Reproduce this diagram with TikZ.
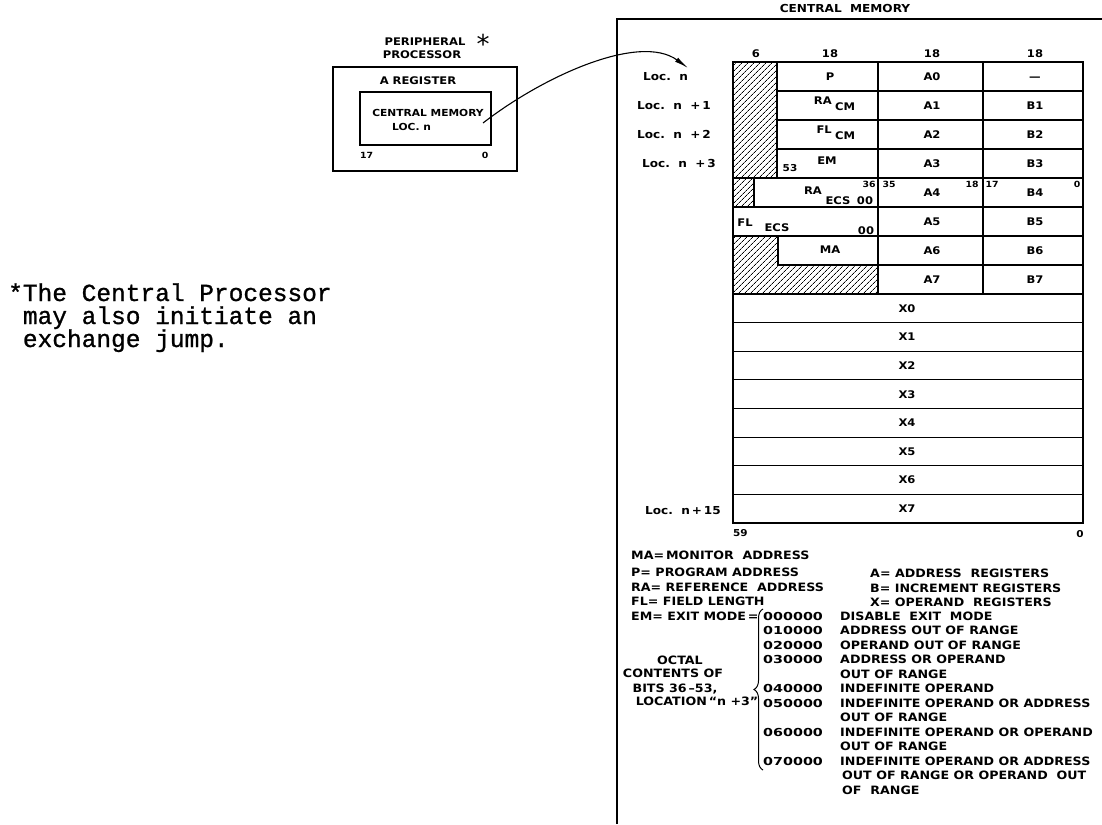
\documentclass[tikz,border=0pt]{standalone}
\usepackage{fontspec}
\usetikzlibrary{patterns.meta,decorations.pathreplacing,arrows.meta}
\newfontfamily\lt{DejaVu Sans Bold}[FakeStretch=1.1]
\newfontfamily\ltw{DejaVu Sans Bold}[FakeStretch=1.3]
\newfontfamily\ltr{DejaVu Sans}
\newfontfamily\nt{Liberation Mono}[FakeBold=1]
\tikzset{
  lab/.style={font=\lt\fontsize{10.5}{12}\selectfont, inner sep=0pt, text height=7.7pt, text depth=0pt},
  loclab/.style={font=\lt\fontsize{11}{13}\selectfont, inner sep=0pt, text height=8pt, text depth=0pt, anchor=west},
  tiny/.style={font=\lt\fontsize{8.5}{10}\selectfont, inner sep=0pt, text height=6.2pt, text depth=0pt},
  leg/.style={font=\lt\fontsize{11.5}{13}\selectfont, inner sep=0pt, text height=8.4pt, text depth=0pt, anchor=west},
  code/.style={font=\ltw\fontsize{11}{13}\selectfont, inner sep=0pt, text height=8pt, text depth=0pt, anchor=west},
  note/.style={font=\nt\fontsize{24.5}{28}\selectfont, inner sep=0pt, anchor=base west},
  ln/.style={line width=1.2pt},
  hatch/.style={pattern={Lines[angle=45,distance=4pt,line width=0.8pt]}},
}
\begin{document}
\begin{tikzpicture}[x=1pt,y=-1pt]
\useasboundingbox (0,0) rectangle (1102,824);

% central memory frame
\draw[ln] (617,824) -- (617,19) -- (1102,19);
\node[lab, font=\lt\fontsize{11}{13}\selectfont] (cmtitle) at (845,9) {CENTRAL\ \ MEMORY};

% peripheral processor
\node[lab] (pp1) at (425,42) {PERIPHERAL};
\node[inner sep=0pt, font=\ltr\fontsize{26}{28}\selectfont] (star) at (483,44) {*};
\node[lab] (pp2) at (422,55) {PROCESSOR};
\node[draw, ln, minimum width=184pt, minimum height=104pt, inner sep=0pt] (ppbox) at (425,119) {};
\node[lab, font=\lt\fontsize{10.5}{12}\selectfont] (areglab) at (418,81) {A\ REGISTER};
\node[draw, ln, minimum width=131pt, minimum height=53pt, inner sep=0pt] (areg) at (425.5,118.5) {};
\node[lab, font=\lt\fontsize{9.7}{12}\selectfont] (cml) at (428,113) {CENTRAL\ MEMORY};
\node[lab, font=\lt\fontsize{9.7}{12}\selectfont, anchor=west] (locn) at (392,127) {LOC.\ n};
\node[tiny, anchor=west] (b17) at (360,155) {17};
\node[tiny] (b0) at (485,155) {0};

% connector
\coordinate (src) at (483,123);
\coordinate (tip) at (688,68);
\draw[line width=1.1pt, -{Latex[length=14pt,width=5pt]}] (src) .. controls (545,75) and (640,33) .. (tip);

% hatching
\fill[hatch] (733,62) rectangle (777,178);
\fill[hatch] (733,178) rectangle (754,207);
\fill[hatch] (733,236) -- (778,236) -- (778,265) -- (878,265) -- (878,294) -- (733,294) -- cycle;

% table lines
\draw[ln] (733,62) rectangle (1083,523);
\draw[ln] (777,62) -- (777,178);
\foreach \yy in {91,120,149} \draw[ln] (777,\yy) -- (1083,\yy);
\foreach \yy in {178,207,236,294} \draw[ln] (733,\yy) -- (1083,\yy);
\draw[ln] (754,178) -- (754,207);
\draw[ln] (878,62) -- (878,294);
\draw[ln] (983,62) -- (983,294);
\draw[ln] (778,236) -- (778,265) -- (1083,265);
\foreach \k in {1,...,7} \draw[ln] (733,{294+28.625*\k}) -- (1083,{294+28.625*\k});

% column headers
\node[lab] (h6) at (756,54) {6};
\node[lab] (h18a) at (830,54) {18};
\node[lab] (h18b) at (932,54) {18};
\node[lab] (h18c) at (1035,54) {18};

% row labels
\node[loclab] (l0) at (643,76.5) {Loc.\ \ n};
\node[loclab] (l1) at (637,105.5) {Loc.\ \ n\ \ +\,1};
\node[loclab] (l2) at (637,134.5) {Loc.\ \ n\ \ +\,2};
\node[loclab] (l3) at (642,163.5) {Loc.\ \ n\ \ +\,3};
\node[loclab] (l15) at (645,510) {Loc.\ \ n\,+\,15};

% row 0-3
\node[lab] (cP) at (830,76.5) {P};
\node[lab] (cA0) at (932,76.5) {A0};
\node[lab] (cdash) at (1035,76.5) {—};
\node[lab, anchor=east] (cRA) at (832,101) {RA};
\node[lab, anchor=west] (cRAs) at (835,107) {CM};
\node[lab] (cA1) at (932,105.5) {A1};
\node[lab] (cB1) at (1035,105.5) {B1};
\node[lab, anchor=east] (cFL) at (832,130) {FL};
\node[lab, anchor=west] (cFLs) at (835,136) {CM};
\node[lab] (cA2) at (932,134.5) {A2};
\node[lab] (cB2) at (1035,134.5) {B2};
\node[lab] (cEM) at (827,161) {EM};
\node[lab] (cA3) at (932,163.5) {A3};
\node[lab] (cB3) at (1035,163.5) {B3};
\node[tiny, font=\lt\fontsize{9.5}{11}\selectfont] (n53) at (790,168) {53};

% row 4
\node[lab] (cRAe) at (813,191) {RA};
\node[lab] (cRAes) at (838,201) {ECS};
\node[lab] (cRA00) at (865,201) {00};
\node[tiny] (n36) at (869,184) {36};
\node[tiny] (n35) at (889,184) {35};
\node[lab] (cA4) at (932,193) {A4};
\node[tiny] (n18) at (972,184) {18};
\node[tiny] (n17) at (992,184) {17};
\node[lab] (cB4) at (1035,193) {B4};
\node[tiny] (n0) at (1077,184) {0};

% row 5
\node[lab] (cFLe) at (745,223) {FL};
\node[lab] (cFLes) at (777,228) {ECS};
\node[lab] (cFL00) at (866,231) {00};
\node[lab] (cA5) at (932,221.5) {A5};
\node[lab] (cB5) at (1035,221.5) {B5};

% row 6-7
\node[lab] (cMA) at (830,250) {MA};
\node[lab] (cA6) at (932,250.5) {A6};
\node[lab] (cB6) at (1035,250.5) {B6};
\node[lab] (cA7) at (932,279.5) {A7};
\node[lab] (cB7) at (1035,279.5) {B7};

% X registers
\foreach \k in {0,...,7} \node[lab] (x\k) at (907,{294+28.625*(\k+0.5)}) {X\k};
\node[tiny, font=\lt\fontsize{9.5}{11}\selectfont, anchor=west] (n59) at (733,533) {59};
\node[tiny, font=\lt\fontsize{9.5}{11}\selectfont] (n0b) at (1080,534) {0};

% legend
\node[leg] (g1) at (631,555) {MA=\,MONITOR\ \ ADDRESS};
\node[leg] (g2) at (631,572) {P=\ PROGRAM\ ADDRESS};
\node[leg] (g3) at (631,587) {RA=\ REFERENCE\ \ ADDRESS};
\node[leg] (g4) at (631,601) {FL=\ FIELD\ LENGTH};
\node[leg] (g5) at (631,616) {EM=\ EXIT\ MODE\,=};
\node[leg] (g6) at (870,573) {A=\ ADDRESS\ \ REGISTERS};
\node[leg] (g7) at (870,588) {B=\ INCREMENT\ REGISTERS};
\node[leg] (g8) at (870,602) {X=\ OPERAND\ \ REGISTERS};

\foreach \k/\c in {0/000000,1/010000,2/020000,3/030000,5/040000,6/050000,8/060000,10/070000}
  \node[code] (c\k) at (763,{616+14.5*\k}) {\c};
\foreach \k/\d in {0/{DISABLE\ \ EXIT\ \ MODE},1/{ADDRESS\ OUT\ OF\ RANGE},2/{OPERAND\ OUT\ OF\ RANGE},3/{ADDRESS\ OR\ OPERAND},4/{OUT\ OF\ RANGE},5/{INDEFINITE\ OPERAND},6/{INDEFINITE\ OPERAND\ OR\ ADDRESS},7/{OUT\ OF\ RANGE},8/{INDEFINITE\ OPERAND\ OR\ OPERAND},9/{OUT\ OF\ RANGE},10/{INDEFINITE\ OPERAND\ OR\ ADDRESS}}
  \node[leg] (d\k) at (840,{616+14.5*\k}) {\d};
\node[leg] (d11) at (842,{616+14.5*11}) {OUT\ OF\ RANGE\ OR\ OPERAND\ \ OUT};
\node[leg] (d12) at (842,{616+14.5*12}) {OF\ \ RANGE};

\draw[line width=1pt, decorate, decoration={brace, amplitude=9pt, aspect=0.5}] (763,770) -- (763,609);

\node[leg, anchor=center] (o1) at (680,660) {OCTAL};
\node[leg, anchor=center] (o2) at (673,673) {CONTENTS\ OF};
\node[leg, anchor=center] (o3) at (675,688) {BITS\ 36\,–53,};
\node[leg, anchor=center] (o4) at (697,701) {LOCATION\,“n\ +3”};

% footnote
\node[note] (f1) at (8,301) {*The Central Processor};
\node[note] (f2) at (8,324) {\hphantom{*}may also initiate an};
\node[note] (f3) at (8,347) {\hphantom{*}exchange jump.};
\end{tikzpicture}
\end{document}
